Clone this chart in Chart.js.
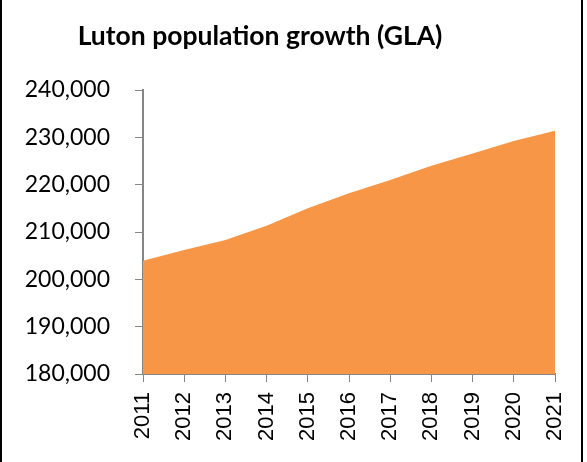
<!DOCTYPE html>
<html>
<head>
<meta charset="utf-8">
<script src="https://cdn.jsdelivr.net/npm/chart.js@4"></script>
<style>
  html, body { margin: 0; padding: 0; background: #fff; }
  #wrap { position: relative; width: 587px; height: 462px; }
  #frame {
    position: absolute; left: 0; top: 0; width: 583px; height: 462px;
    box-sizing: border-box; border-left: 2px solid #000; border-right: 2px solid #000;
    pointer-events: none;
  }
</style>
</head>
<body>
<div id="wrap">
  <canvas id="lutonArea" width="587" height="462"></canvas>
  <div id="frame"></div>
</div>
<script>
const years = ["2011", "2012", "2013", "2014", "2015", "2016", "2017", "2018", "2019", "2020", "2021"];
const population = [203900, 206200, 208300, 211300, 215000, 218200, 221000, 224000, 226600, 229200, 231400];
const yTicks = [180000, 190000, 200000, 210000, 220000, 230000, 240000];
const chartTitle = "Luton population growth (GLA)";

const axisGrey = "#868686";

// title sits a little left of the canvas centre, so draw it ourselves
const titleText = {
  id: "titleText",
  afterDraw(chart) {
    const ctx = chart.ctx;
    ctx.save();
    ctx.fillStyle = "#000";
    ctx.font = "bold 26.5px Lato";
    ctx.textAlign = "center";
    ctx.textBaseline = "alphabetic";
    ctx.fillText(chartTitle, 260, 45);
    ctx.restore();
  }
};

new Chart(document.getElementById("lutonArea"), {
  type: "line",
  data: {
    labels: years,
    datasets: [{
      label: "Population",
      data: population,
      fill: "start",
      backgroundColor: "#F79646",
      borderWidth: 0,
      pointRadius: 0,
      tension: 0
    }]
  },
  options: {
    responsive: false,
    animation: false,
    layout: { padding: { left: 0, right: 32, top: 90, bottom: 0 } },
    plugins: {
      legend: { display: false },
      tooltip: { enabled: false },
      title: { display: false }
    },
    scales: {
      x: {
        offset: false,
        grid: {
          display: true,
          drawOnChartArea: false,
          drawTicks: true,
          tickLength: 8,
          color: axisGrey,
          lineWidth: 1
        },
        border: { color: axisGrey, width: 2 },
        ticks: {
          color: "#000",
          maxRotation: 90,
          minRotation: 90,
          padding: 10,
          font: { family: "Liberation Sans", size: 22 }
        },
        afterFit: scale => {
          scale.height = 88;
          scale.paddingLeft = 0;
          scale.paddingRight = 0;
        }
      },
      y: {
        min: 180000,
        max: 240000,
        afterBuildTicks: scale => { scale.ticks = yTicks.map(v => ({ value: v })); },
        grid: {
          display: true,
          drawOnChartArea: false,
          drawTicks: true,
          tickLength: 8,
          color: axisGrey,
          lineWidth: 1
        },
        border: { color: axisGrey, width: 2 },
        ticks: {
          color: "#000",
          padding: 25,
          font: { family: "Lato", size: 23 },
          callback: v => v.toLocaleString("en-GB")
        },
        afterFit: scale => { scale.width = 143; }
      }
    }
  },
  plugins: [titleText]
});
</script>
</body>
</html>
